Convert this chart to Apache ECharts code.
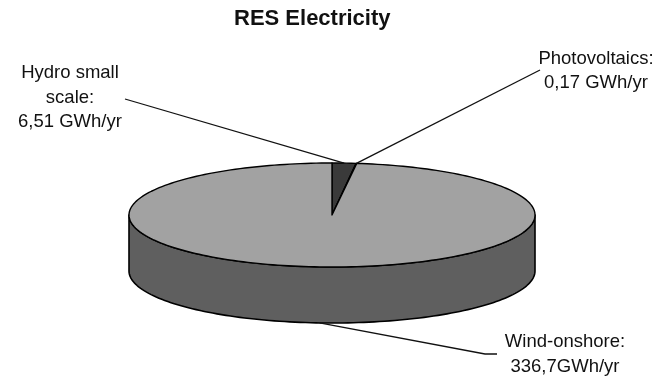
<!DOCTYPE html>
<html>
<head>
<meta charset="utf-8">
<title>RES Electricity</title>
<script src="https://cdn.jsdelivr.net/npm/echarts@6/dist/echarts.min.js"></script>
<style>
  html, body { margin: 0; padding: 0; background: #fff; }
  #chart { width: 667px; height: 378px; }
</style>
</head>
<body>
<div id="chart"></div>
<script>
// Renewable electricity production by source (GWh/yr)
const categories = ['Hydro small scale', 'Photovoltaics', 'Wind-onshore'];
const values = [6.51, 0.17, 336.7];
// Label heading lines and unit separators for each source
const labelHeads = [['Hydro small', 'scale:'], ['Photovoltaics:'], ['Wind-onshore:']];
const unitSep = [' ', ' ', ''];

const sliceColors = ['#3a3a3a', '#3a3a3a', '#a2a2a2'];
const wallColors = ['#2e2e2e', '#2e2e2e', '#5f5f5f'];

// Elliptical "3D" pie geometry
const PIE = { cx: 332, cy: 215, rx: 203, ry: 52, depth: 56 };
// Label blocks (centre) and the end of each leader line
const LABELS = [
  { x: 70, y: 97.5, lineEnd: [[125, 99]], rim: 'top' },
  { x: 596, y: 71, lineEnd: [[540, 70]], rim: 'top' },
  { x: 565, y: 354.5, lineEnd: [[485, 354], [497, 354]], rim: 'bottom' }
];

const total = values.reduce((a, b) => a + b, 0);
const starts = [];
let acc = 0;
values.forEach(v => { starts.push(acc / total * 360); acc += v; });

function fmt(v) { return String(v).replace('.', ','); }

function pt(deg, dy) {
  const r = deg * Math.PI / 180;
  return [PIE.cx + PIE.rx * Math.sin(r), PIE.cy - PIE.ry * Math.cos(r) + (dy || 0)];
}
function arc(a1, a2, dy) {
  const pts = [];
  const n = Math.max(2, Math.ceil(Math.abs(a2 - a1) / 1.5));
  for (let i = 0; i <= n; i++) pts.push(pt(a1 + (a2 - a1) * i / n, dy));
  return pts;
}

const chart = echarts.init(document.getElementById('chart'), null, { renderer: 'canvas' });

chart.setOption({
  backgroundColor: '#ffffff',
  animation: false,
  title: {
    text: 'RES Electricity',
    left: 234,
    top: 8,
    padding: 0,
    textStyle: { fontFamily: 'Liberation Sans, Arial', fontWeight: 'bold', fontSize: 22, color: '#111' }
  },
  series: [{
    type: 'custom',
    coordinateSystem: 'none',
    data: values.map((v, i) => ({ name: categories[i], value: v })),
    renderItem: function (params, api) {
      const i = params.dataIndex;
      const v = api.value(0);
      const a1 = starts[i];
      const a2 = a1 + v / total * 360;
      const children = [];

      // front wall: the part of the slice between 90° and 270° (facing the viewer)
      const w1 = Math.max(a1, 90), w2 = Math.min(a2, 270);
      if (w2 > w1) {
        const topArc = arc(w1, w2, 0);
        const botArc = arc(w1, w2, PIE.depth).reverse();
        children.push({
          type: 'polygon', z2: 1,
          shape: { points: topArc.concat(botArc) },
          style: { fill: wallColors[i], stroke: '#000', lineWidth: 1.6, lineJoin: 'round' }
        });
      }

      // top face
      children.push({
        type: 'polygon', z2: 2,
        shape: { points: [[PIE.cx, PIE.cy]].concat(arc(a1, a2, 0)) },
        style: { fill: sliceColors[i], stroke: '#000', lineWidth: 1.4, lineJoin: 'round' }
      });

      // leader line from the slice's middle on the rim to its label
      const L = LABELS[i];
      const mid = (a1 + a2) / 2;
      const anchor = L.rim === 'top' ? pt(mid, 0) : pt(mid, PIE.depth);
      children.push({
        type: 'polyline', z2: 3,
        shape: { points: [anchor].concat(L.lineEnd) },
        style: { stroke: '#111', lineWidth: 1.3, fill: null }
      });

      // label text: heading lines + value
      const lines = labelHeads[i].concat([fmt(v) + unitSep[i] + 'GWh/yr']);
      children.push({
        type: 'text', z2: 4,
        style: {
          x: L.x, y: L.y,
          text: lines.join('\n'),
          align: 'center', verticalAlign: 'middle',
          fontFamily: 'Liberation Sans, Arial', fontSize: 18.5, lineHeight: 24.5,
          fill: '#111'
        }
      });

      return { type: 'group', children: children };
    }
  }]
});
</script>
</body>
</html>
